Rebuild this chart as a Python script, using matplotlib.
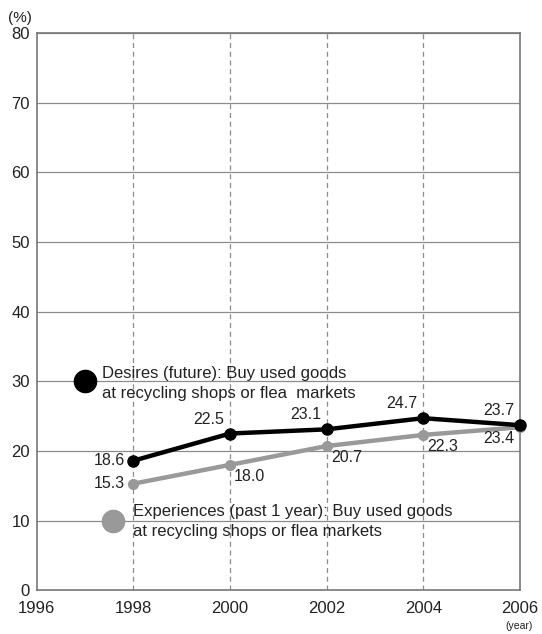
import matplotlib
matplotlib.use("Agg")
import matplotlib.pyplot as plt

plt.rcParams["font.family"] = ["Liberation Sans", "DejaVu Sans"]

years = [1998, 2000, 2002, 2004, 2006]
desires = [18.6, 22.5, 23.1, 24.7, 23.7]
experiences = [15.3, 18.0, 20.7, 22.3, 23.4]
xticks = [1996, 1998, 2000, 2002, 2004, 2006]
yticks = [0, 10, 20, 30, 40, 50, 60, 70, 80]

desires_label = "Desires (future): Buy used goods\nat recycling shops or flea  markets"
experiences_label = "Experiences (past 1 year): Buy used goods\nat recycling shops or flea markets"

BLACK = "#000000"
GRAY = "#999999"
GRID = "#8c8c8c"
TEXT = "#222222"

fig = plt.figure(figsize=(5.42, 6.34), dpi=100)
ax = fig.add_axes([0.068, 0.069, 0.891, 0.879])

ax.set_xlim(1996, 2006)
ax.set_ylim(0, 80)
ax.set_xticks(xticks)
ax.set_yticks(yticks)
ax.tick_params(axis="y", length=0, labelsize=12, colors=TEXT, pad=5)
ax.tick_params(axis="x", length=0, labelsize=12, colors=TEXT, pad=8)

for y in yticks[1:]:
    ax.axhline(y, color=GRID, lw=0.9, zorder=1)
for x in years[:-1]:
    ax.axvline(x, color=GRID, lw=0.9, ls=(0, (4, 3)), zorder=1)
for side in ax.spines.values():
    side.set_color("#777777")
    side.set_linewidth(1.2)

ax.plot(years, experiences, color=GRAY, lw=3.2, marker="o", ms=7,
        zorder=3, clip_on=False)
ax.plot(years, desires, color=BLACK, lw=3.2, marker="o", ms=8,
        zorder=4, clip_on=False)

fs = 11.5
# desires labels: first left, others above-left
ax.annotate(f"{desires[0]:.1f}", (years[0], desires[0]), xytext=(-6, 0),
            textcoords="offset points", ha="right", va="center",
            fontsize=fs, color=TEXT)
for x, v in zip(years[1:], desires[1:]):
    ax.annotate(f"{v:.1f}", (x, v), xytext=(-4, 5), textcoords="offset points",
                ha="right", va="bottom", fontsize=fs, color=TEXT)

# experiences labels
ax.annotate(f"{experiences[0]:.1f}", (years[0], experiences[0]), xytext=(-6, 0),
            textcoords="offset points", ha="right", va="center",
            fontsize=fs, color=TEXT)
for x, v in zip(years[1:-1], experiences[1:-1]):
    ax.annotate(f"{v:.1f}", (x, v), xytext=(3, -3), textcoords="offset points",
                ha="left", va="top", fontsize=fs, color=TEXT)
ax.annotate(f"{experiences[-1]:.1f}", (years[-1], experiences[-1]),
            xytext=(-4, -3), textcoords="offset points",
            ha="right", va="top", fontsize=fs, color=TEXT)

# legend-like labels
ax.plot([1997.0], [30.0], "o", color=BLACK, ms=16, zorder=5)
ax.text(1997.35, 29.7, desires_label, fontsize=12, ha="left", va="center",
        linespacing=1.4, zorder=5, color=TEXT)
ax.plot([1997.57], [9.9], "o", color=GRAY, ms=16, zorder=5)
ax.text(1997.99, 9.9, experiences_label, fontsize=12, ha="left", va="center",
        linespacing=1.4, zorder=5, color=TEXT)

fig.text(0.015, 0.972, "(%)", fontsize=11, ha="left", va="center", color=TEXT)
fig.text(0.958, 0.012, "(year)", fontsize=7.5, ha="center", va="center",
         color=TEXT)

fig.savefig("out.png", dpi=100)
